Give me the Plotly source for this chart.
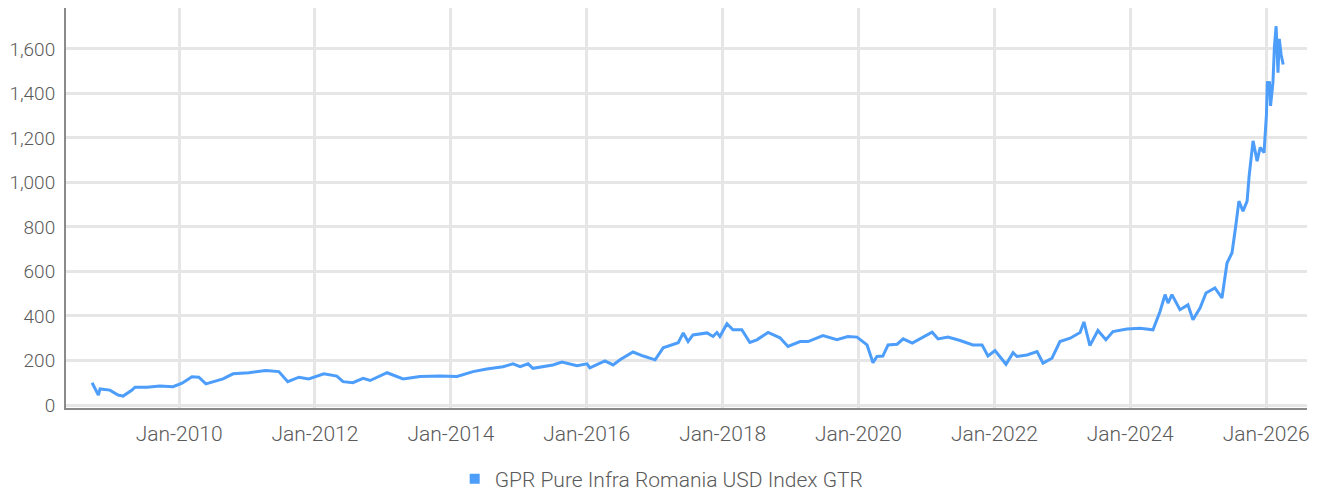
import plotly.graph_objects as go

series_name = "GPR Pure Infra Romania USD Index GTR"

dates = [
    "2008-09-20", "2008-10-06", "2008-10-24", "2008-11-02", "2008-12-25",
    "2009-02-07", "2009-03-06", "2009-04-23", "2009-05-09", "2009-07-12",
    "2009-09-20", "2009-11-29", "2010-01-17", "2010-03-11", "2010-04-17",
    "2010-05-25", "2010-08-25", "2010-10-18", "2011-01-11", "2011-04-12",
    "2011-06-21", "2011-08-08", "2011-10-07", "2011-11-29", "2012-02-18",
    "2012-04-28", "2012-05-31", "2012-07-23", "2012-09-16", "2012-10-24",
    "2013-01-23", "2013-04-19", "2013-07-19", "2013-11-03", "2014-02-03",
    "2014-04-30", "2014-07-13", "2014-10-08", "2014-12-01", "2015-01-08",
    "2015-02-20", "2015-03-18", "2015-07-03", "2015-08-21", "2015-11-10",
    "2016-01-03", "2016-01-18", "2016-04-08", "2016-05-22", "2016-06-28",
    "2016-09-06", "2016-10-31", "2017-01-03", "2017-02-15", "2017-05-07",
    "2017-06-03", "2017-06-29", "2017-07-25", "2017-10-09", "2017-11-10",
    "2017-12-01", "2017-12-17", "2018-01-24", "2018-02-25", "2018-04-14",
    "2018-05-27", "2018-07-04", "2018-09-02", "2018-11-05", "2018-12-18",
    "2019-02-21", "2019-04-05", "2019-06-24", "2019-09-07", "2019-11-05",
    "2019-12-24", "2020-02-16", "2020-03-19", "2020-04-09", "2020-05-11",
    "2020-06-08", "2020-07-27", "2020-08-28", "2020-10-16", "2020-11-27",
    "2021-01-31", "2021-03-04", "2021-04-26", "2021-06-30", "2021-09-07",
    "2021-10-26", "2021-11-27", "2022-01-04", "2022-01-31", "2022-03-04",
    "2022-04-11", "2022-05-02", "2022-06-25", "2022-08-18", "2022-09-19",
    "2022-11-06", "2022-12-19", "2023-02-12", "2023-04-06", "2023-04-27",
    "2023-05-29", "2023-07-11", "2023-08-23", "2023-09-30", "2023-12-14",
    "2024-02-22", "2024-05-02", "2024-06-09", "2024-07-06", "2024-07-22",
    "2024-08-12", "2024-09-24", "2024-11-06", "2024-12-03", "2025-01-10",
    "2025-02-11", "2025-03-31", "2025-05-08", "2025-06-04", "2025-07-01",
    "2025-07-22", "2025-08-07", "2025-08-29", "2025-09-20", "2025-10-01",
    "2025-10-22", "2025-11-13", "2025-11-29", "2025-12-20", "2026-01-02",
    "2026-01-07", "2026-01-12", "2026-01-18", "2026-01-24", "2026-02-06",
    "2026-02-14", "2026-02-23", "2026-03-05", "2026-03-12", "2026-03-22",
    "2026-04-02",
]

values = [
    100, 76, 45, 72, 67,
    45, 40, 67, 80, 80,
    85, 82, 98, 127, 125,
    95, 117, 140, 145, 155,
    150, 105, 125, 117, 140,
    130, 105, 100, 120, 110,
    145, 117, 128, 130, 128,
    150, 162, 172, 185, 172,
    185, 165, 180, 193, 177,
    185, 167, 198, 180, 203,
    238, 220, 203, 257, 280,
    324, 285, 315, 324, 308,
    326, 308, 365, 338, 338,
    281, 293, 326, 302, 263,
    285, 285, 312, 293, 308,
    305, 270, 190, 218, 220,
    270, 273, 297, 278, 296,
    327, 297, 305, 290, 270,
    270, 220, 245, 218, 183,
    235, 218, 225, 240, 188,
    210, 285, 300, 326, 373,
    267, 335, 293, 330, 341,
    345, 338, 420, 496, 458,
    496, 428, 450, 383, 436,
    503, 526, 481, 638, 684,
    811, 916, 871, 916, 1029,
    1187, 1096, 1157, 1134, 1305,
    1455, 1395, 1455, 1344, 1450,
    1612, 1702, 1493, 1645, 1574,
    1530,
]

y_ticks = [0, 200, 400, 600, 800, 1000, 1200, 1400, 1600]
x_tick_dates = ["2010-01-01", "2012-01-01", "2014-01-01", "2016-01-01",
                "2018-01-01", "2020-01-01", "2022-01-01", "2024-01-01", "2026-01-01"]
x_tick_labels = ["Jan-2010", "Jan-2012", "Jan-2014", "Jan-2016",
                 "Jan-2018", "Jan-2020", "Jan-2022", "Jan-2024", "Jan-2026"]

line_color = "#4d9dfb"
font_family = "Roboto, sans-serif"
text_color = "#5a5a5a"
x_font = dict(family=font_family, size=21, color=text_color, weight=300)
y_font = dict(family=font_family, size=19, color=text_color, weight=300)

fig = go.Figure()
fig.add_trace(go.Scatter(
    x=dates, y=values, mode="lines",
    line=dict(color=line_color, width=3),
    showlegend=False, name=series_name,
))
fig.add_trace(go.Scatter(
    x=[None], y=[None], mode="markers",
    marker=dict(symbol="square", size=10, color=line_color),
    name=series_name, showlegend=True,
))

fig.update_layout(
    width=1313, height=493,
    margin=dict(l=58, r=14, t=0, b=93),
    paper_bgcolor="white", plot_bgcolor="white",
    font=x_font,
    legend=dict(orientation="h", x=0.48, xanchor="center", y=-0.1775, yanchor="middle",
                font=x_font, itemwidth=30),
)
fig.update_xaxes(
    type="date",
    range=["2008-05-03", "2026-08-08"],
    tickvals=x_tick_dates, ticktext=x_tick_labels,
    tickfont=x_font,
    showgrid=True, gridcolor="#e6e6e6", gridwidth=2.5,
    showline=True, linecolor="#8a8a8a", linewidth=2,
    ticks="", ticklabelstandoff=6, zeroline=False, automargin=False,
)
fig.update_yaxes(
    range=[-13.5, 1784],
    tickvals=y_ticks, tickformat=",",
    tickfont=y_font,
    showgrid=True, gridcolor="#e6e6e6", gridwidth=2.5,
    showline=True, linecolor="#8a8a8a", linewidth=2,
    ticks="", ticklabelstandoff=5, zeroline=False, automargin=False,
)

fig.write_html("out.html")
